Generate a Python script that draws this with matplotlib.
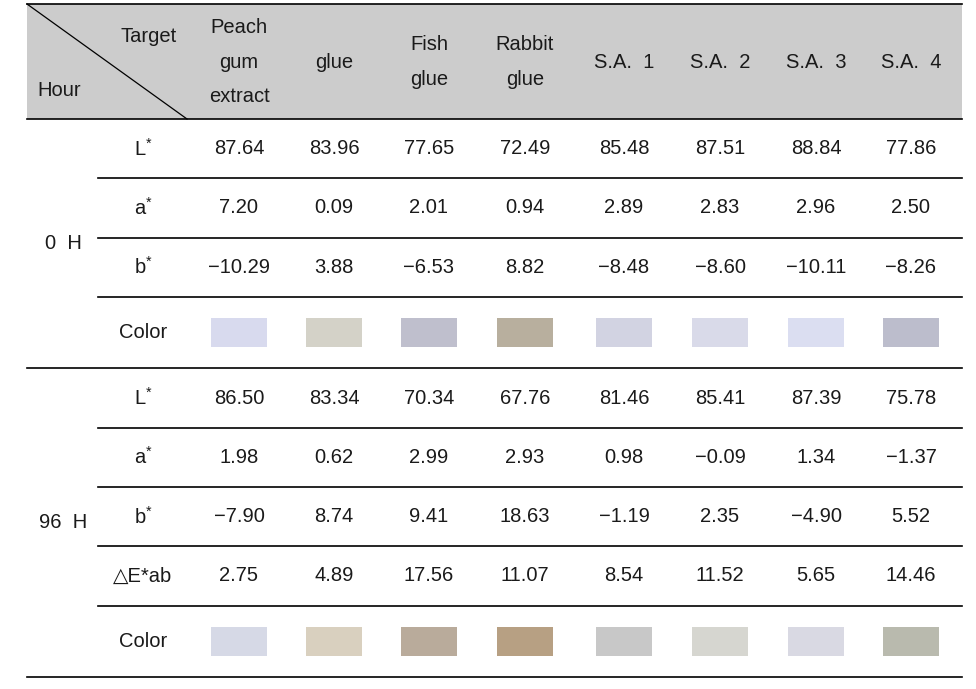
import matplotlib.pyplot as plt
from matplotlib.patches import Rectangle

# ==========================================
# DATA
# ==========================================
targets = ['Peach\ngum\nextract', 'glue', 'Fish\nglue', 'Rabbit\nglue',
           'S.A.  1', 'S.A.  2', 'S.A.  3', 'S.A.  4']
hours = ['0  H', '96  H']

rows_0h = ['L$^{\\mathregular{*}}$', 'a$^{\\mathregular{*}}$', 'b$^{\\mathregular{*}}$']
vals_0h = [
    [87.64, 83.96, 77.65, 72.49, 85.48, 87.51, 88.84, 77.86],
    [7.20, 0.09, 2.01, 0.94, 2.89, 2.83, 2.96, 2.50],
    [-10.29, 3.88, -6.53, 8.82, -8.48, -8.60, -10.11, -8.26],
]
colors_0h = ['#d8daee', '#d4d2c8', '#bfbfcd', '#b8af9e',
             '#d2d3e2', '#d9dae9', '#dbdef1', '#bcbdcc']

rows_96h = ['L$^{\\mathregular{*}}$', 'a$^{\\mathregular{*}}$', 'b$^{\\mathregular{*}}$',
            '\u25b3E*ab']
vals_96h = [
    [86.50, 83.34, 70.34, 67.76, 81.46, 85.41, 87.39, 75.78],
    [1.98, 0.62, 2.99, 2.93, 0.98, -0.09, 1.34, -1.37],
    [-7.90, 8.74, 9.41, 18.63, -1.19, 2.35, -4.90, 5.52],
    [2.75, 4.89, 17.56, 11.07, 8.54, 11.52, 5.65, 14.46],
]
colors_96h = ['#d6d9e6', '#d9d0bf', '#b9ab9b', '#b7a083',
              '#c8c8c8', '#d6d6d0', '#d9d9e3', '#b9baae']

# ==========================================
# LAYOUT (pixel coordinates)
# ==========================================
left, right = 27, 962
sub_left = 98
label_x = 143
hour_x = 63
col_x = [239, 334, 429, 525, 624, 720, 816, 911]
header_top, header_bot = 4, 119
row_h = 59.3
color_h = 71.5
sw_w, sw_h = 56, 29

FONT = ['Liberation Sans', 'DejaVu Sans']
FS = 14.5
TXT = '#1a1a1a'


def fmt(v):
    s = f'{abs(v):.2f}'
    return ('\u2212' + s) if v < 0 else s


fig = plt.figure(figsize=(9.76, 6.89), dpi=100)
ax = fig.add_axes([0, 0, 1, 1])
ax.set_xlim(0, 976)
ax.set_ylim(689, 0)
ax.axis('off')

# header
ax.add_patch(Rectangle((left, header_top), right - left, header_bot - header_top,
                       facecolor='#cccccc', edgecolor='none'))
ax.plot([left, 187], [header_top, header_bot], color='black', lw=0.9)
ax.plot([left, right], [header_top, header_top], color='black', lw=1.2)
ax.plot([left, right], [header_bot, header_bot], color='black', lw=1.2)
ax.text(149, 36, 'Target', ha='center', va='center', fontsize=FS, family=FONT, color=TXT)
ax.text(59, 90, 'Hour', ha='center', va='center', fontsize=FS, family=FONT, color=TXT)
for x, t in zip(col_x, targets):
    ax.text(x, 62, t, ha='center', va='center', fontsize=FS, family=FONT,
            color=TXT, linespacing=2.05)


def draw_block(y0, names, values, colors, hour):
    y = y0
    for name, vals in zip(names, values):
        yc = y + row_h / 2
        ax.text(label_x, yc, name, ha='center', va='center', fontsize=FS,
                family=FONT, color=TXT)
        for x, v in zip(col_x, vals):
            ax.text(x, yc, fmt(v), ha='center', va='center', fontsize=FS,
                    family=FONT, color=TXT)
        y += row_h
        ax.plot([sub_left, right], [y, y], color='black', lw=1.2)
    yc = y + color_h / 2
    ax.text(label_x, yc, 'Color', ha='center', va='center', fontsize=FS,
            family=FONT, color=TXT)
    for x, c in zip(col_x, colors):
        ax.add_patch(Rectangle((x - sw_w / 2, yc - sw_h / 2), sw_w, sw_h,
                               facecolor=c, edgecolor='none'))
    y += color_h
    ax.plot([left, right], [y, y], color='black', lw=1.2)
    ax.text(hour_x, (y0 + y) / 2, hour, ha='center', va='center', fontsize=FS,
            family=FONT, color=TXT)
    return y


y_end = draw_block(header_bot, rows_0h, vals_0h, colors_0h, hours[0])
draw_block(y_end, rows_96h, vals_96h, colors_96h, hours[1])

plt.savefig('out.png', dpi=100)
